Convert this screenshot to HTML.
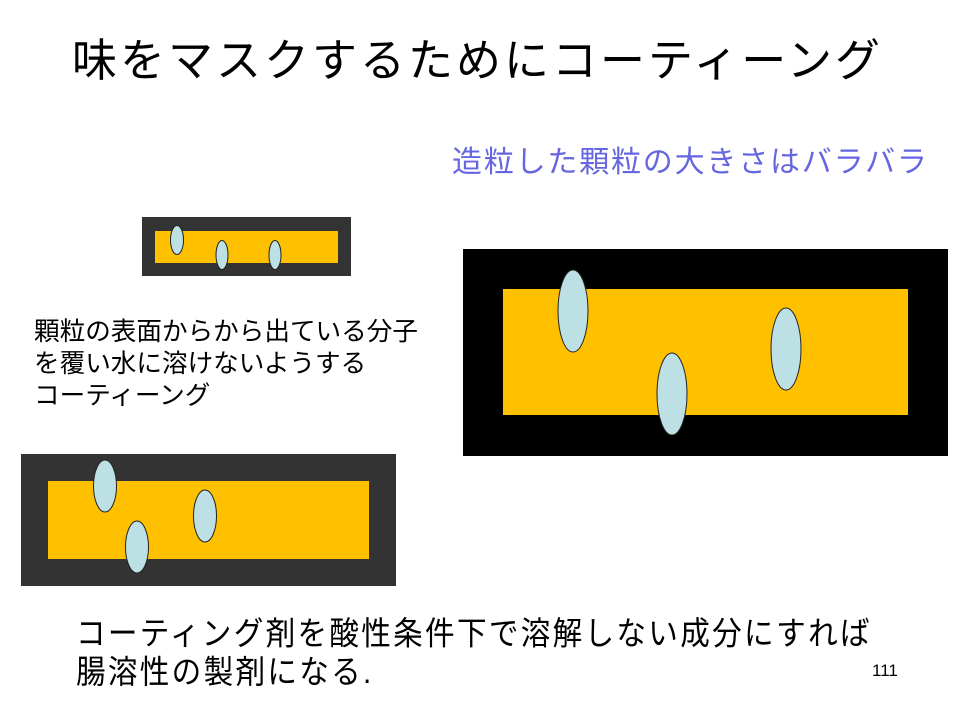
<!DOCTYPE html>
<html><head><meta charset="utf-8"><style>
body{margin:0;width:960px;height:720px;background:#fff;position:relative;overflow:hidden;font-family:"Liberation Sans","Noto Sans CJK JP",sans-serif;}
.t{position:absolute;white-space:nowrap;line-height:1;}
svg{position:absolute;left:0;top:0;}
</style></head><body>
<svg width="960" height="720">
<rect x="142" y="217" width="209" height="59" fill="#333"/>
<rect x="155" y="231" width="183" height="32" fill="#ffc000"/>
<ellipse cx="177" cy="240" rx="6.5" ry="14.5" fill="#bde0e4" stroke="#222" stroke-width="1"/>
<ellipse cx="222" cy="255" rx="6" ry="14.5" fill="#bde0e4" stroke="#222" stroke-width="1"/>
<ellipse cx="275" cy="255" rx="6" ry="14.5" fill="#bde0e4" stroke="#222" stroke-width="1"/>
<rect x="463" y="249" width="485" height="207" fill="#000"/>
<rect x="503" y="289" width="405" height="126" fill="#ffc000"/>
<ellipse cx="573" cy="311" rx="15" ry="41" fill="#bde0e4" stroke="#222" stroke-width="1"/>
<ellipse cx="672" cy="394" rx="15" ry="41" fill="#bde0e4" stroke="#222" stroke-width="1"/>
<ellipse cx="786" cy="349" rx="15" ry="41" fill="#bde0e4" stroke="#222" stroke-width="1"/>
<rect x="21" y="454" width="375" height="132" fill="#333"/>
<rect x="48" y="481" width="321" height="78" fill="#ffc000"/>
<ellipse cx="105" cy="486" rx="11.5" ry="26" fill="#bde0e4" stroke="#222" stroke-width="1"/>
<ellipse cx="137" cy="547" rx="11.5" ry="26" fill="#bde0e4" stroke="#222" stroke-width="1"/>
<ellipse cx="205" cy="516" rx="11.5" ry="26" fill="#bde0e4" stroke="#222" stroke-width="1"/>
</svg>
<div class="t" style="left:72px;top:38px;font-size:45px;letter-spacing:3px;color:#000;">味をマスクするためにコーティーング</div>
<div class="t" style="left:452px;top:148px;font-size:30px;letter-spacing:1.8px;color:#6666e0;">造粒した顆粒の大きさはバラバラ</div>
<div class="t" style="left:34px;top:316px;font-size:25.6px;line-height:32px;color:#000;">顆粒の表面からから出ている分子<br>を覆い水に溶けないようする<br>コーティーング</div>
<div class="t" style="left:76px;top:615px;font-size:29.6px;line-height:35px;letter-spacing:2.3px;color:#000;transform:scaleY(1.1);transform-origin:0 0;">コーティング剤を酸性条件下で溶解しない成分にすれば<br>腸溶性の製剤になる.</div>
<div class="t" style="left:872px;top:662px;font-size:17px;color:#000;">111</div>
</body></html>
